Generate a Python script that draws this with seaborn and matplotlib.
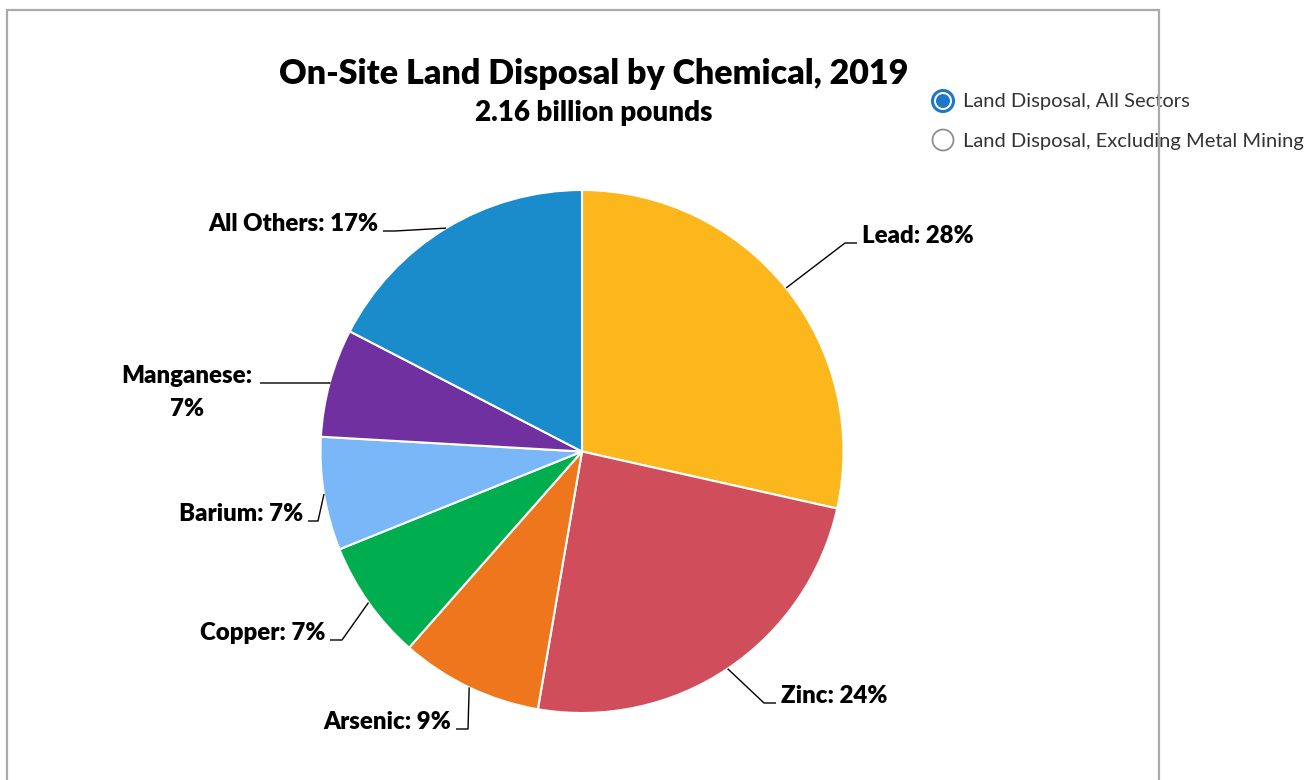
import numpy as np
import matplotlib.pyplot as plt
import matplotlib.patches as mpatches
import seaborn as sns

# values (percent of on-site land disposal)
chemicals = ['Lead', 'Zinc', 'Arsenic', 'Copper', 'Barium', 'Manganese', 'All Others']
shares = [28.5, 24.2, 8.8, 7.4, 7.0, 6.7, 17.4]
shown_pct = [28, 24, 9, 7, 7, 7, 17]
colors = ['#FBB71C', '#D04E5B', '#EE761C', '#00AE4F', '#7AB7F8', '#7030A0', '#1A8BCB']
legend_items = ['Land Disposal, All Sectors', 'Land Disposal, Excluding Metal Mining']

sns.set_theme(style='white')
plt.rcParams['font.family'] = ['Lato', 'DejaVu Sans']

W, H = 1308, 780
CX, CY, R = 582, 451.5, 261.5   # pie centre / radius in pixels
LBL = dict(fontsize=17.3, fontweight='heavy', color='black')


def px(x, y):
    # pixel position -> data units of the pie axes
    return (x - CX) / R, (CY - y) / R


fig = plt.figure(figsize=(W / 100, H / 100), dpi=100)
ax = fig.add_axes([0, 0, 1, 1])
wedges, _ = ax.pie(shares, colors=colors, startangle=90, counterclock=False,
                   radius=1, wedgeprops=dict(edgecolor='white', linewidth=1.5))
ax.set_xlim(-CX / R, (W - CX) / R)
ax.set_ylim(-(H - CY) / R, CY / R)
ax.set_aspect('auto')
ax.axis('off')

# leader line layout: elbow point (pixels) and end of the short horizontal tick
elbows = [(845, 243), (764, 703), (468, 729), (342, 640), (318, 521), (330, 383), (395, 231)]
tick_end = [857, 776, 456, 330, 308, 260, 383]

for w, name, pct, (exx, eyy), tx in zip(wedges, chemicals, shown_pct, elbows, tick_end):
    th = np.deg2rad((w.theta1 + w.theta2) / 2)
    sx, sy = np.cos(th), np.sin(th)
    ex, ey = px(exx, eyy)
    hx, _ = px(tx, eyy)
    ax.plot([sx, ex, hx], [sy, ey, ey], color='black', lw=1, solid_capstyle='butt')
    gap = 5 / R
    if name == 'Manganese':
        ax.text(px(187, 0)[0], ey, f'{name}:', ha='center', va='baseline', **LBL)
        ax.text(px(187, 0)[0], ey - 33 / R, f'{pct}%', ha='center', va='baseline', **LBL)
    elif hx > 0:
        ax.text(hx + gap, ey, f'{name}: {pct}%', ha='left', va='baseline', **LBL)
    else:
        ax.text(hx - gap, ey, f'{name}: {pct}%', ha='right', va='baseline', **LBL)

# titles
fig.text(594 / W, 1 - 74 / H, 'On-Site Land Disposal by Chemical, 2019', ha='center', va='center',
         fontsize=24.5, fontweight='heavy', color='black')
fig.text(594 / W, 1 - 113 / H, '2.16 billion pounds', ha='center', va='center',
         fontsize=20, fontweight='heavy', color='black')

# outer frame (bottom edge is off the picture)
fig.add_artist(mpatches.Rectangle((7 / W, -0.05), (1159 - 7) / W, 1.05 - 10 / H, transform=fig.transFigure,
                                  fill=False, edgecolor='#AAAAAA', lw=1.6))

# radio-button style legend
rx, ry = px(943, 101)
ax.add_patch(mpatches.Circle((rx, ry), 10.5 / R, facecolor='white', edgecolor='#1F77C8', lw=2.2, zorder=5))
ax.add_patch(mpatches.Circle((rx, ry), 7 / R, facecolor='#1F77C8', edgecolor='none', zorder=6))
rx2, ry2 = px(943, 140)
ax.add_patch(mpatches.Circle((rx2, ry2), 10.5 / R, facecolor='white', edgecolor='#8F8F8F', lw=1.3, zorder=5))
for (lx, ly), txt in zip([px(963, 102), px(963, 141)], legend_items):
    ax.text(lx, ly, txt, ha='left', va='center', fontsize=14.5, color='#333333')

fig.savefig('out.png', dpi=100)
